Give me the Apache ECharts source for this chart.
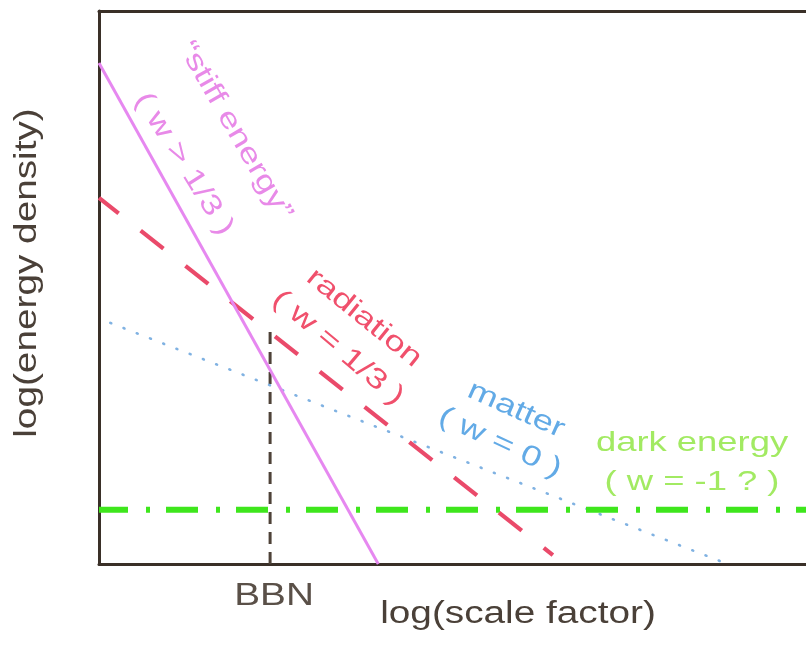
<!DOCTYPE html>
<html>
<head>
<meta charset="utf-8">
<script src="https://cdn.jsdelivr.net/npm/echarts@6/dist/echarts.min.js"></script>
<style>
  html, body { margin: 0; padding: 0; background: #fff; }
  #chart { width: 806px; height: 649px; }
</style>
</head>
<body>
<div id="chart"></div>
<script>
// Energy density of each component against the scale factor
// (both axes logarithmic, arbitrary units 0..100).
const stiffEnergy = [[0, 90.6], [39.5, 0]];
const radiation   = [[0, 66.2], [64.2, 1.6]];
const matter      = [[1.6, 43.6], [88.1, 0.4]];
const darkEnergy  = [[0, 9.8], [100, 9.8]];
const bbnMarker   = [[24.2, 0], [24.2, 42.9]];

const axisTitleX = 'log(scale factor)';
const axisTitleY = 'log(energy density)';
const bbnLabel = 'BBN';

const FONT = '"Liberation Sans", Arial, Helvetica, sans-serif';
const frameColor = '#3a3028';

const chart = echarts.init(document.getElementById('chart'), null, { renderer: 'canvas' });

function frameAxis(extra) {
  return Object.assign({
    type: 'value', min: 0, max: 100,
    axisLine: { show: true, onZero: false, lineStyle: { color: frameColor, width: 3 } },
    axisTick: { show: false },
    axisLabel: { show: false },
    splitLine: { show: false }
  }, extra);
}

function curve(name, data, lineStyle, z) {
  return {
    type: 'line', name, data, z,
    symbol: 'none', showSymbol: false, silent: true, animation: false,
    lineStyle
  };
}

function label(text, x, y, deg, color, size, stretch) {
  return {
    type: 'text', x, y,
    rotation: deg * Math.PI / 180,
    scaleX: stretch, scaleY: 1,
    silent: true, z: 100,
    style: {
      text, fill: color,
      font: size + 'px ' + FONT,
      textAlign: 'center', textVerticalAlign: 'middle',
      align: 'center', verticalAlign: 'middle'
    }
  };
}

chart.setOption({
  backgroundColor: '#ffffff',
  animation: false,
  grid: { left: 99, top: 11, right: 0, bottom: 85 },
  xAxis: [
    frameAxis({ position: 'bottom' }),
    frameAxis({ position: 'top' })
  ],
  yAxis: frameAxis({ position: 'left' }),
  series: [
    curve('BBN', bbnMarker,
      { color: '#4e4238', width: 3, type: [12, 8] }, 2),
    curve('matter', matter,
      { color: '#80b2e2', width: 2.6, type: [1, 13.2], cap: 'round' }, 3),
    curve('dark energy', darkEnergy,
      { color: '#3ee61c', width: 6, type: [32, 18, 4, 16], dashOffset: 3 }, 4),
    curve('radiation', radiation,
      { color: '#ea4a6a', width: 4.2, type: [29, 28], dashOffset: 4 }, 5),
    curve('stiff energy', stiffEnergy,
      { color: '#e688f0', width: 3 }, 6)
  ]
});

// Place the BBN tick text under the marker line
const bbnPx = chart.convertToPixel({ gridIndex: 0 }, bbnMarker[0]);

chart.setOption({
  graphic: [
    label(axisTitleY, 27, 273, 90, '#4a4038', 31, 1.25),
    label(axisTitleX, 518, 614, 0, '#4a4038', 31, 1.25),
    label(bbnLabel, bbnPx[0] + 4, 596, 0, '#5a5048', 31, 1.25),

    label('\u201Cstiff energy\u201D', 235, 131, -60, '#e88ae8', 28, 1.3),
    label('( w > 1/3 )', 184, 164, -58, '#e88ae8', 28, 1.3),

    label('radiation', 364, 318, -39, '#f0506c', 28, 1.3),
    label('( w = 1/3 )', 338, 348, -40, '#f0506c', 28, 1.3),

    label('matter', 516, 410, -24, '#62aae6', 28, 1.3),
    label('( w = 0 )', 500, 443, -25, '#62aae6', 28, 1.3),

    label('dark energy', 692, 443, 0, '#a2ea62', 28, 1.3),
    label('( w = -1 ? )', 692, 482, 0, '#a2ea62', 28, 1.3)
  ]
});
</script>
</body>
</html>
